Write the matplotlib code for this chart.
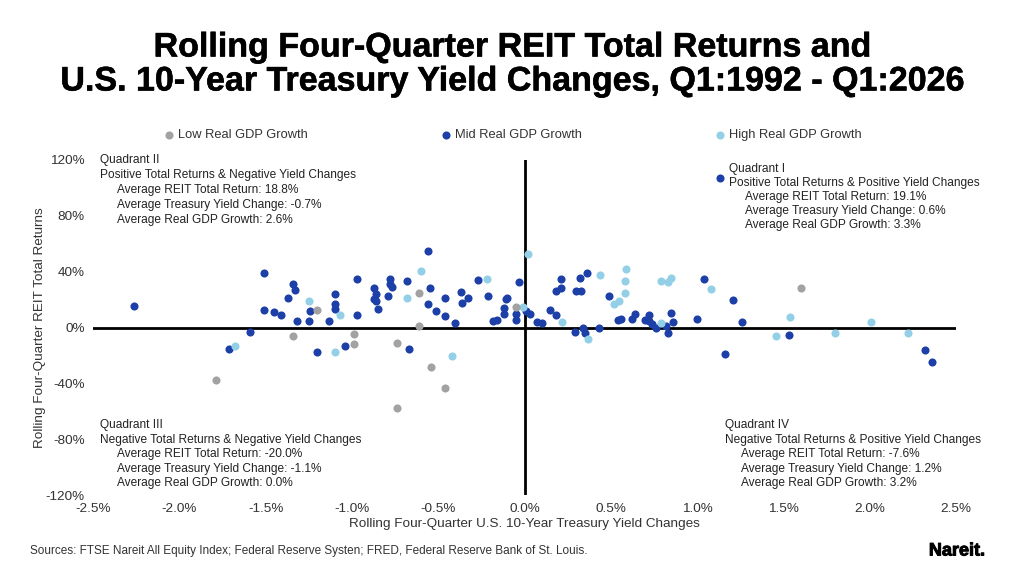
import matplotlib
matplotlib.use("Agg")
import matplotlib.pyplot as plt
import matplotlib.patheffects as pe
from matplotlib.ticker import FuncFormatter

plt.rcParams['font.family'] = ['Liberation Sans', 'DejaVu Sans']

# rolling four-quarter 10y treasury yield change (%) and REIT total return (%)
low_x = [-1.79, -1.34, -1.20, -0.99, -0.99, -0.74, -0.74, -0.61, -0.61, -0.54, -0.46, -0.05, 1.60]
low_y = [-37.3, -6.2, 12.6, -4.6, -12.0, -10.8, -57.8, 24.8, 1.1, -28.0, -43.0, 14.6, 28.2]

mid_x = [-2.26, -1.51, -1.34, -1.33, -1.37, -1.51, -1.45, -1.41, -1.32, -1.25, -1.59, -1.71,
         -1.24, -1.20, -1.13, -1.10, -1.10, -1.10, -1.04, -0.97, -0.97, -0.87, -0.86, -0.87,
         -0.86, -0.85, -0.78, -0.78, -0.77, -0.79, -0.68, -0.67, -0.56, -0.55, -0.56, -0.51,
         -0.46, -0.46, -0.40, -0.37, -0.36, -0.33, -0.27, -0.21, -0.18, -0.16, -0.12, -0.12,
         -0.11, -0.10, -0.05, -0.05, -0.03, 0.01, 0.03, 0.07, 0.10, 0.15, 0.18, 0.18, 0.21,
         0.21, 0.29, 0.30, 0.33, 0.32, 0.36, 0.34, 0.35, 0.43, 0.49, 0.54, 0.56, 0.62, 0.64,
         0.70, 0.72, 0.72, 0.74, 0.76, 0.82, 0.83, 0.85, 0.86, 1.00, 1.04, 1.16, 1.21, 1.26,
         1.53, 2.32, 2.36, 1.13]
mid_y = [15.5, 38.9, 31.5, 27.0, 21.2, 12.6, 11.0, 8.8, 4.7, 4.3, -2.9, -15.6,
         11.5, -17.2, 4.3, 24.1, 16.7, 13.6, -12.9, 34.4, 8.6, 28.2, 24.1, 20.1,
         18.9, 13.3, 35.1, 31.3, 29.1, 22.9, 33.2, -15.3, 54.5, 28.2, 16.7, 11.5,
         21.2, 8.1, 2.9, 25.3, 17.2, 20.8, 33.9, 22.4, 4.7, 5.2, 13.8, 9.7,
         20.1, 21.0, 9.5, 5.7, 32.3, 11.9, 9.7, 3.6, 3.1, 12.6, 9.3, 26.0, 28.0,
         34.4, -3.4, 25.8, 25.8, 35.6, 39.1, -0.5, -3.6, 0.0, 22.9, 5.4, 6.4, 5.9, 10.0,
         5.4, 8.8, 4.7, 2.6, -0.5, 1.1, -4.1, 10.5, 3.6, 6.2, 34.4, -18.9, 19.6, 3.6,
         -5.7, -16.0, -24.6, 106.8]

high_x = [-1.68, -1.25, -1.10, -1.07, -0.68, -0.60, -0.42, -0.22, -0.01, 0.02, 0.22, 0.37,
          0.44, 0.52, 0.55, 0.58, 0.58, 0.59, 0.79, 0.79, 0.83, 0.85, 1.08, 1.46, 1.54,
          1.80, 2.01, 2.22]
high_y = [-12.9, 19.0, -17.2, 8.6, 20.8, 40.6, -20.6, 34.4, 15.0, 52.8, 3.6, -8.4,
          37.3, 16.5, 19.1, 24.4, 33.4, 41.8, 3.1, 33.2, 32.3, 35.6, 27.5, -6.2, 7.2,
          -4.1, 3.6, -4.1]

quad_text = {
    'II': ['Quadrant II', 'Positive Total Returns & Negative Yield Changes',
           'Average REIT Total Return: 18.8%', 'Average Treasury Yield Change: -0.7%',
           'Average Real GDP Growth: 2.6%'],
    'I': ['Quadrant I', 'Positive Total Returns & Positive Yield Changes',
          'Average REIT Total Return: 19.1%', 'Average Treasury Yield Change: 0.6%',
          'Average Real GDP Growth: 3.3%'],
    'III': ['Quadrant III', 'Negative Total Returns & Negative Yield Changes',
            'Average REIT Total Return: -20.0%', 'Average Treasury Yield Change: -1.1%',
            'Average Real GDP Growth: 0.0%'],
    'IV': ['Quadrant IV', 'Negative Total Returns & Positive Yield Changes',
           'Average REIT Total Return: -7.6%', 'Average Treasury Yield Change: 1.2%',
           'Average Real GDP Growth: 3.2%'],
}

GRAY = '#a2a2a2'
DARK = '#1d40a8'
LIGHT = '#93d0e8'

W, H = 1024, 576
fig = plt.figure(figsize=(W / 100, H / 100), dpi=100)
ax = fig.add_axes([93 / W, 1 - 495 / H, 863 / W, 335 / H])


def px(x, y):
    return x / W, 1 - y / H


ax.scatter(mid_x, mid_y, s=34, color=DARK, lw=0, zorder=3, label='Mid Real GDP Growth')
ax.scatter(high_x, high_y, s=34, color=LIGHT, lw=0, zorder=3, label='High Real GDP Growth')
ax.scatter(low_x, low_y, s=34, color=GRAY, lw=0, zorder=4, label='Low Real GDP Growth')

ax.axhline(0, color='black', lw=2, zorder=2)
ax.axvline(0, color='black', lw=2, zorder=2)

ax.set_xlim(-2.5, 2.5)
ax.set_ylim(-120, 120)
ax.set_xticks([-2.5, -2.0, -1.5, -1.0, -0.5, 0.0, 0.5, 1.0, 1.5, 2.0, 2.5])
ax.set_yticks([-120, -80, -40, 0, 40, 80, 120])
ax.xaxis.set_major_formatter(FuncFormatter(lambda v, p: '%.1f%%' % v))
ax.yaxis.set_major_formatter(FuncFormatter(lambda v, p: '%d%%' % v))
ax.tick_params(length=0, labelsize=9.7, colors='#333333', pad=6)
for s in ax.spines.values():
    s.set_visible(False)

fig.text(*px(524, 524), 'Rolling Four-Quarter U.S. 10-Year Treasury Yield Changes',
         fontsize=9.7, color='#333333', ha='center', va='center')
fig.text(*px(40, 328), 'Rolling Four-Quarter REIT Total Returns', fontsize=9.7,
         color='#333333', ha='center', va='center', rotation=90)

# legend
handles, labels = ax.get_legend_handles_labels()
order = [2, 0, 1]
fig.legend([handles[i] for i in order], [labels[i] for i in order], ncol=3,
           loc='center', bbox_to_anchor=px(512, 135), frameon=False, fontsize=9.3,
           handlelength=1.0, handletextpad=0.2, columnspacing=10.2, markerscale=1.0,
           labelcolor='#333333')

# quadrant annotations
spots = {'II': (100, 117, 160, 15), 'I': (729, 745, 169, 14),
         'III': (100, 117, 425, 14.6), 'IV': (725, 741, 425, 14.6)}
for q, (x0, x1, y0, dy) in spots.items():
    for i, line in enumerate(quad_text[q]):
        xx = x0 if i < 2 else x1
        fig.text(*px(xx, y0 + i * dy), line, fontsize=8.6, color='#222222',
                 ha='left', va='center')

thick = [pe.withStroke(linewidth=0.4, foreground='black')]
fig.text(*px(512, 48), 'Rolling Four-Quarter REIT Total Returns and', fontsize=24.5,
         fontweight='bold', ha='center', va='center', path_effects=thick)
fig.text(*px(512, 82), 'U.S. 10-Year Treasury Yield Changes, Q1:1992 - Q1:2026',
         fontsize=24.5, fontweight='bold', ha='center', va='center', path_effects=thick)

fig.text(*px(30, 551), 'Sources: FTSE Nareit All Equity Index; Federal Reserve Systen; '
         'FRED, Federal Reserve Bank of St. Louis.', fontsize=8.5, color='#333333',
         ha='left', va='center')
fig.text(*px(985, 551), 'Nareit.', fontsize=13, fontweight='bold', ha='right', va='center',
         path_effects=[pe.withStroke(linewidth=0.7, foreground='black')])

fig.savefig('out.png', dpi=100, facecolor='white')
